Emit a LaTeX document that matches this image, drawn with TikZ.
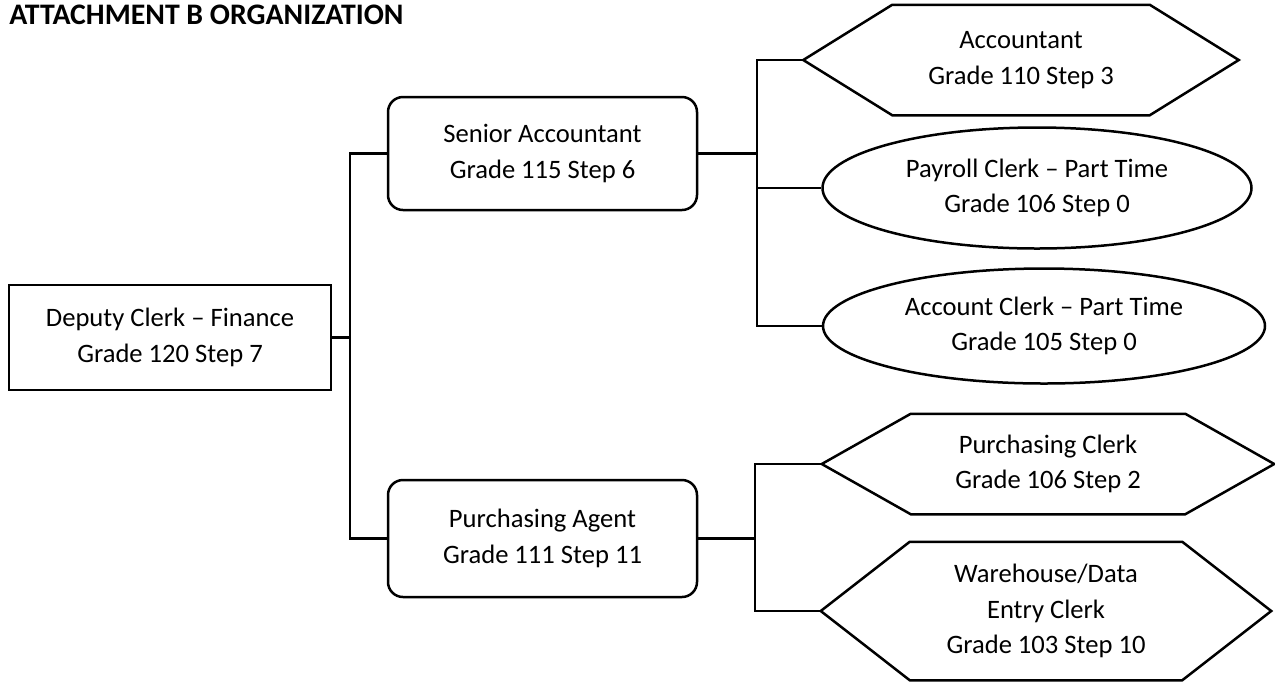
\documentclass[tikz,border=0pt]{standalone}
\usepackage{fontspec}
\setmainfont{Carlito}
\usepackage{tikz}
\usetikzlibrary{shapes,positioning}

\begin{document}
\begin{tikzpicture}[
    x=0.5pt, y=-0.5pt,
    line width=1.25pt,
    post/.style={rectangle, draw, align=center, inner sep=0pt, font=\fontsize{13.3pt}{17.8pt}\selectfont},
    lead/.style={post, rounded corners=7.5pt},
    parttime/.style={post, ellipse},
    hexa/.style={post, draw=none}]
    \useasboundingbox (0,0) rectangle (1275,682);
    \node[anchor=base west, inner sep=0pt, font=\bfseries\fontsize{14.9pt}{17pt}\selectfont] (title) at (8,24) {ATTACHMENT B ORGANIZATION};

    % head of the department
    \node[post, minimum width=161pt, minimum height=52.5pt] (deputy) at (170,337.5) {Deputy Clerk -- Finance\\Grade 120 Step 7};

    % second level
    \node[lead, minimum width=154.5pt, minimum height=56.5pt] (senior) at (542.5,153.5) {Senior Accountant\\Grade 115 Step 6};
    \node[lead, minimum width=154.5pt, minimum height=58.5pt] (agent) at (542.5,538.5) {Purchasing Agent\\Grade 111 Step 11};

    % staff under the senior accountant
    \node[hexa, minimum width=216.5pt, minimum height=54pt] (acct) at (1021,60) {Accountant\\Grade 110 Step 3};
    \node[parttime, minimum width=214.5pt, minimum height=60.5pt] (payroll) at (1037,188) {Payroll Clerk -- Part Time\\Grade 106 Step 0};
    \node[parttime, minimum width=221pt, minimum height=57.5pt] (acctclerk) at (1044,326) {Account Clerk -- Part Time\\Grade 105 Step 0};

    % staff under the purchasing agent
    \node[hexa, minimum width=225pt, minimum height=49pt] (pclerk) at (1048,464) {Purchasing Clerk\\Grade 106 Step 2};
    \node[hexa, minimum width=224pt, minimum height=68pt] (whse) at (1046,611) {Warehouse/Data\\Entry Clerk\\Grade 103 Step 10};

    \foreach \n in {acct, pclerk, whse}
        \draw (\n.west) -- ([xshift=44.5pt]\n.north west) -- ([xshift=-44.5pt]\n.north east) -- (\n.east)
            -- ([xshift=-44.5pt]\n.south east) -- ([xshift=44.5pt]\n.south west) -- cycle;

    % connectors
    \coordinate (trunk) at (350,337.5);
    \draw (deputy.east) -- (trunk);
    \draw (senior.west) -| (trunk) |- (agent.west);

    \coordinate (sbus) at (757,153.5);
    \draw (senior.east) -- (sbus);
    \draw (acct.west) -| (sbus) |- (acctclerk.west);
    \draw (sbus |- payroll.west) -- (payroll.west);

    \coordinate (pbus) at (755,538.5);
    \draw (agent.east) -- (pbus);
    \draw (pclerk.west) -| (pbus) |- (whse.west);
\end{tikzpicture}
\end{document}
